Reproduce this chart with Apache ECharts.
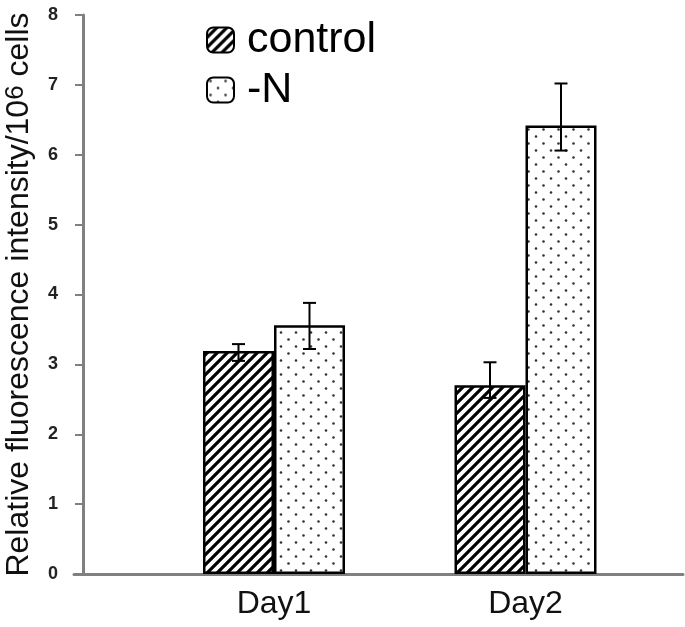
<!DOCTYPE html>
<html>
<head>
<meta charset="utf-8">
<script src="https://cdn.jsdelivr.net/npm/echarts@6/dist/echarts.min.js"></script>
<style>
html,body{margin:0;padding:0;background:#fff;}
#chart{width:685px;height:627px;}
</style>
</head>
<body>
<div id="chart"></div>
<script>
// ---- data ----
var categories = ['Day1', 'Day2'];
var seriesNames = ['control', '-N'];
var controlValues = [3.19, 2.70];
var controlLow = [3.05, 2.52];
var controlHigh = [3.29, 3.03];
var nValues = [3.56, 6.42];
var nLow = [3.22, 6.06];
var nHigh = [3.88, 7.02];
var yTicks = [0, 1, 2, 3, 4, 5, 6, 7, 8];

// ---- patterns ----
function hatchCanvas() {
  var c = document.createElement('canvas');
  c.width = 10; c.height = 10;
  var ctx = c.getContext('2d');
  ctx.fillStyle = '#fff'; ctx.fillRect(0, 0, 10, 10);
  ctx.strokeStyle = '#000'; ctx.lineWidth = 3.2; ctx.lineCap = 'square';
  ctx.beginPath();
  ctx.moveTo(-5, 5); ctx.lineTo(5, -5);
  ctx.moveTo(0, 10); ctx.lineTo(10, 0);
  ctx.moveTo(5, 15); ctx.lineTo(15, 5);
  ctx.stroke();
  return c;
}
function dotCanvas() {
  var c = document.createElement('canvas');
  c.width = 15; c.height = 14;
  var ctx = c.getContext('2d');
  ctx.fillStyle = '#fff'; ctx.fillRect(0, 0, 15, 14);
  ctx.fillStyle = '#333';
  ctx.beginPath(); ctx.arc(3.5, 3.5, 1.3, 0, Math.PI * 2); ctx.fill();
  ctx.beginPath(); ctx.arc(11, 10.5, 1.3, 0, Math.PI * 2); ctx.fill();
  return c;
}
var hatch = { image: hatchCanvas(), repeat: 'repeat' };
var dots = { image: dotCanvas(), repeat: 'repeat' };

var BAR_W = 71;
function errData(low, high) {
  return categories.map(function (c, i) { return [i, low[i], high[i]]; });
}
function errRender(shift) {
  return function (params, api) {
    var lo = api.coord([api.value(0), api.value(1)]);
    var hi = api.coord([api.value(0), api.value(2)]);
    var x = lo[0] + shift;
    var cap = 6.5;
    var st = { stroke: '#000', lineWidth: 2 };
    return {
      type: 'group',
      children: [
        { type: 'line', shape: { x1: x, y1: hi[1], x2: x, y2: lo[1] }, style: st },
        { type: 'line', shape: { x1: x - cap, y1: hi[1], x2: x + cap, y2: hi[1] }, style: st },
        { type: 'line', shape: { x1: x - cap, y1: lo[1], x2: x + cap, y2: lo[1] }, style: st }
      ]
    };
  };
}

var chart = echarts.init(document.getElementById('chart'));
var FONT = '"Liberation Sans", Arial, sans-serif';
chart.setOption({
  backgroundColor: '#fff',
  animation: false,
  textStyle: { fontFamily: FONT },
  legend: {
    orient: 'vertical',
    left: 201, top: 13,
    itemWidth: 27, itemHeight: 25,
    itemGap: 6,
    textStyle: { fontSize: 43, color: '#000', fontFamily: FONT, lineHeight: 44, padding: [0, 0, 0, 8] },
    data: seriesNames
  },
  grid: [
    { left: 148.25, right: 33.75, top: 15, bottom: 53, containLabel: false, outerBoundsMode: 'none' },
    { left: 74, right: 2, top: 15, bottom: 53, containLabel: false, outerBoundsMode: 'none' }
  ],
  xAxis: [
    {
      type: 'category', gridIndex: 0, data: categories,
      axisLine: { show: false }, axisTick: { show: false },
      axisLabel: { fontSize: 32, color: '#111', margin: 14, fontFamily: FONT }
    },
    {
      type: 'value', gridIndex: 1, min: 0, max: 1,
      axisLine: { show: true, lineStyle: { color: '#808080', width: 3 } },
      axisTick: { show: false }, axisLabel: { show: false }, splitLine: { show: false }
    }
  ],
  yAxis: [
    {
      type: 'value', gridIndex: 0, min: yTicks[0], max: yTicks[yTicks.length - 1], interval: 1,
      offset: 65.25,
      axisLine: { show: true, lineStyle: { color: '#808080', width: 3 } },
      axisTick: { show: true, length: 8, lineStyle: { color: '#808080', width: 2 } },
      splitLine: { show: false },
      axisLabel: { fontSize: 18, fontWeight: 'bold', color: '#222', margin: 25, fontFamily: FONT },
      name: '{a|Relative fluorescence intensity/10}{s|6}{a| cells}',
      nameLocation: 'middle', nameRotate: 90, nameGap: 48,
      nameTextStyle: {
        rich: {
          a: { fontSize: 32, color: '#111', fontFamily: FONT },
          s: { fontSize: 26, color: '#111', fontFamily: FONT, verticalAlign: 'top', padding: [0, 0, 6, 0] }
        }
      }
    },
    { type: 'value', gridIndex: 1, show: false, min: 0, max: 8 }
  ],
  series: [
    {
      name: seriesNames[0], type: 'bar', xAxisIndex: 0, yAxisIndex: 0,
      data: controlValues, barWidth: BAR_W, barGap: '0%',
      itemStyle: { color: hatch, borderColor: '#000', borderWidth: 2.5 }
    },
    {
      name: seriesNames[1], type: 'bar', xAxisIndex: 0, yAxisIndex: 0,
      data: nValues, barWidth: BAR_W, barGap: '0%',
      itemStyle: { color: dots, borderColor: '#000', borderWidth: 2.5 }
    },
    {
      type: 'custom', xAxisIndex: 0, yAxisIndex: 0, z: 5,
      renderItem: errRender(-BAR_W / 2), data: errData(controlLow, controlHigh)
    },
    {
      type: 'custom', xAxisIndex: 0, yAxisIndex: 0, z: 5,
      renderItem: errRender(BAR_W / 2), data: errData(nLow, nHigh)
    }
  ]
});
</script>
</body>
</html>
